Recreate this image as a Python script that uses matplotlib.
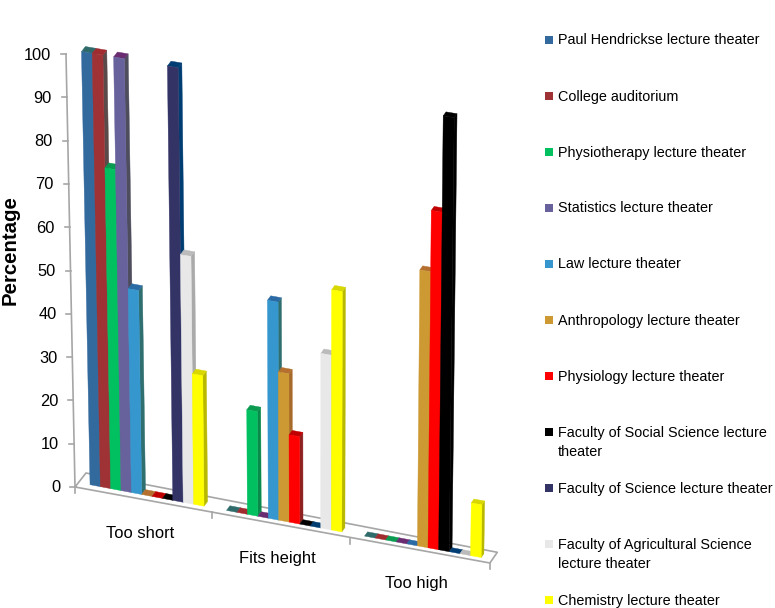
import matplotlib
matplotlib.use("Agg")
import matplotlib.pyplot as plt

plt.rcParams["font.family"] = ["Liberation Sans", "DejaVu Sans"]

categories = ["Too short", "Fits height", "Too high"]
series_names = [
    "Paul Hendrickse lecture theater",
    "College auditorium",
    "Physiotherapy lecture theater",
    "Statistics lecture theater",
    "Law lecture theater",
    "Anthropology lecture theater",
    "Physiology lecture theater",
    "Faculty of Social Science lecture\ntheater",
    "Faculty of Science lecture theater",
    "Faculty of Agricultural Science\nlecture theater",
    "Chemistry lecture theater",
]
too_short = [100, 100, 74, 100, 47, 0, 0, 0, 100, 57, 30]
fits_height = [0, 0, 24, 0, 50, 34, 20, 0, 0, 40, 55]
too_high = [0, 0, 0, 0, 0, 63, 77, 99, 0, 0, 12]
y_ticks = list(range(0, 101, 10))

front_colors = ["#336a9e", "#9e3235", "#00c060", "#67619c", "#3697cf", "#cc9933",
                "#ff0000", "#000000", "#333366", "#e8e8e8", "#ffff00"]
side_colors = ["#2f6b6b", "#5a4a4a", "#0a8a4a", "#4d4d5e", "#2f6f70", "#a86a2a",
               "#8f2020", "#000000", "#003d73", "#aaaaaa", "#b8b800"]
top_colors = ["#2f6b6b", "#a02c30", "#0a9a50", "#6a2c70", "#2a6aa5", "#b5702f",
              "#c00000", "#000000", "#003d73", "#bbbbbb", "#d8d800"]
legend_y = [40, 96, 152, 208, 264, 320, 376, 432, 488, 544, 600]

GRID = "#a6a6a6"
BAR_W = 0.076
GAP = 0.085
D0, D1 = 0.32, 0.68


def project(u, d, v):
    # fake 3d: category pos u, floor depth d, value v -> image pixels
    fx = 75 + u * 135.9 + u * u * 0.8
    fy = 487 + u * 76 / 3
    bx = 11 - 1.2 * u
    by = -14 + 1.1 * u
    tilt = -9 + 5.2 * u
    height = 433 + 2 * u
    return (fx + d * bx + tilt * v / 100, fy + d * by - height * v / 100)


def draw_bar(ax, u0, u1, v, front, side, top):
    ax.fill(*zip(project(u1, D0, 0), project(u1, D1, 0), project(u1, D1, v), project(u1, D0, v)),
            fc=side, ec=side, lw=0.3)
    ax.fill(*zip(project(u0, D0, v), project(u1, D0, v), project(u1, D1, v), project(u0, D1, v)),
            fc=top, ec=top, lw=0.3)
    if v > 0:
        ax.fill(*zip(project(u0, D0, 0), project(u1, D0, 0), project(u1, D0, v), project(u0, D0, v)),
                fc=front, ec=front, lw=0.3)


fig = plt.figure(figsize=(7.75, 6.08), dpi=100)
ax = fig.add_axes([0, 0, 1, 1])
ax.set_xlim(0, 775)
ax.set_ylim(608, 0)
ax.axis("off")

# floor and value axis
corners = [project(0, 0, 0), project(3, 0, 0), project(3, 1, 0), project(0, 1, 0), project(0, 0, 0)]
ax.plot(*zip(*corners), color=GRID, lw=1.2, zorder=1)
ax.plot(*zip(project(0, 0, 0), project(0, 0, 100)), color=GRID, lw=1.2, zorder=1)
for t in y_ticks:
    x, y = project(0, 0, t)
    ax.plot([x - 5, x], [y, y], color=GRID, lw=1.2, zorder=1)
    ax.text(x - 15, y + 1, str(t), ha="right", va="center", fontsize=11.8, color="black")
for c in range(4):
    x, y = project(c, 0, 0)
    ax.plot([x, x], [y, y + 6], color=GRID, lw=1.2, zorder=1)

for c, values in enumerate([too_short, fits_height, too_high]):
    for i, v in enumerate(values):
        u0 = c + GAP + i * BAR_W
        draw_bar(ax, u0, u0 + BAR_W, v, front_colors[i], side_colors[i], top_colors[i])

for c, name in enumerate(categories):
    x, y = project(c + 0.475, 0, 0)
    ax.text(x, y + 34, name, ha="center", va="center", fontsize=11.9, color="black")

ax.text(10, 250, "Percentage", rotation=90, ha="center", va="center",
        fontsize=14.7, fontweight="bold", color="black")

for name, y, color in zip(series_names, legend_y, front_colors):
    ax.fill([545, 553, 553, 545], [y - 4, y - 4, y + 4, y + 4], color=color, lw=0)
    ax.text(558, y - 6.5, name, ha="left", va="top", fontsize=10.4, color="black", linespacing=1.5)

fig.savefig("out.png", dpi=100)
